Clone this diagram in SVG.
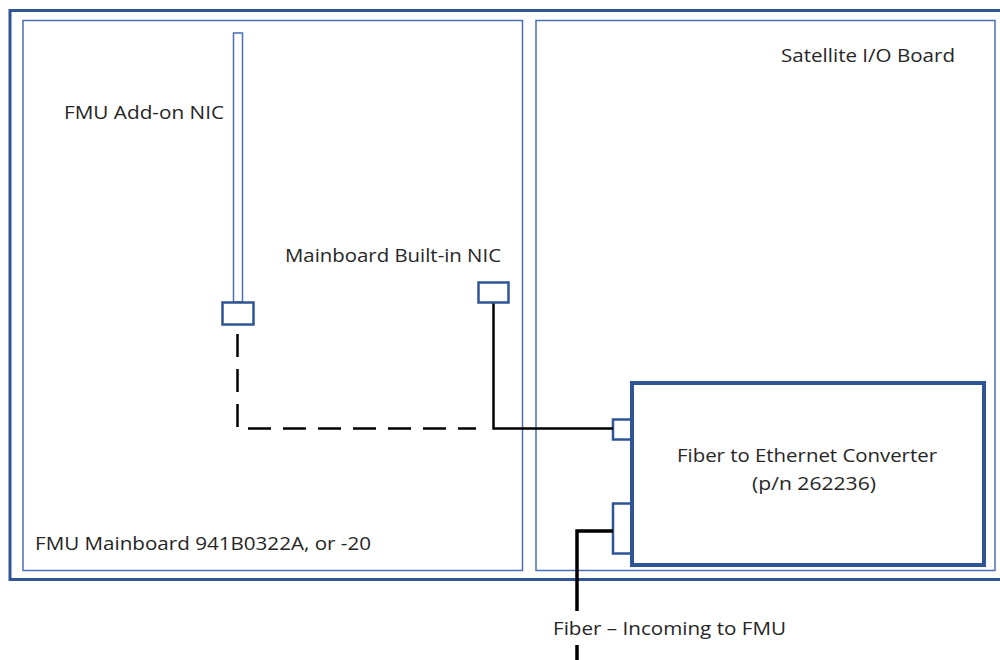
<svg xmlns="http://www.w3.org/2000/svg" width="1000" height="660" viewBox="0 0 1000 660">
<style>
.frame{fill:none;stroke:#2f5597;stroke-width:3}
.board{fill:none;stroke:#4a6fb5;stroke-width:1.5}
.part{fill:#fff;stroke:#2f5597;stroke-width:2.5}
.conv{fill:#fff;stroke:#2f5597;stroke-width:4}
.wire{fill:none;stroke:#000;stroke-width:2.5}
.dash{fill:none;stroke:#000;stroke-width:2.5;stroke-dasharray:23 12}
.fiber{fill:none;stroke:#000;stroke-width:3.5}
.t{font-family:"Open Sans","Liberation Sans",sans-serif;font-size:18px;fill:#262626}
</style>
<rect width="1000" height="660" fill="#fff"/>
<g id="enclosure"><rect class="frame" x="10" y="10.5" width="992" height="569"/></g>
<g id="mainboard">
<rect class="board" x="23" y="20.5" width="499.5" height="550"/>
<text class="t" x="35" y="550" textLength="336" lengthAdjust="spacingAndGlyphs">FMU Mainboard 941B0322A, or -20</text>
</g>
<g id="satellite">
<rect class="board" x="536" y="20.5" width="459" height="550"/>
<text class="t" x="781" y="62" textLength="174" lengthAdjust="spacingAndGlyphs">Satellite I/O Board</text>
</g>
<g id="addon-nic">
<rect class="board" x="233.5" y="33" width="9" height="269"/>
<rect class="part" x="222.5" y="302.5" width="31" height="22"/>
<text class="t" x="64" y="119" textLength="160" lengthAdjust="spacingAndGlyphs">FMU Add-on NIC</text>
</g>
<g id="builtin-nic">
<rect class="part" x="478.5" y="282.5" width="30" height="20"/>
<text class="t" x="285" y="262" textLength="216" lengthAdjust="spacingAndGlyphs">Mainboard Built-in NIC</text>
</g>
<g id="converter">
<rect class="part" x="613" y="419.5" width="19" height="20"/>
<rect class="part" x="613" y="503.5" width="19" height="50"/>
<rect class="conv" x="632" y="383" width="352" height="182"/>
<text class="t" x="677" y="462" textLength="260" lengthAdjust="spacingAndGlyphs">Fiber to Ethernet Converter</text>
<text class="t" x="752" y="490" textLength="124" lengthAdjust="spacingAndGlyphs">(p/n 262236)</text>
</g>
<g id="connectors">
<path class="dash" d="M237.5 334 V428.5 H476"/>
<path class="wire" d="M493.5 303.5 V428.5 H613"/>
<path class="fiber" d="M613 531 H577 V611"/>
<path class="fiber" d="M577 645 V660"/>
<text class="t" x="553" y="635" textLength="233" lengthAdjust="spacingAndGlyphs">Fiber – Incoming to FMU</text>
</g>
</svg>
